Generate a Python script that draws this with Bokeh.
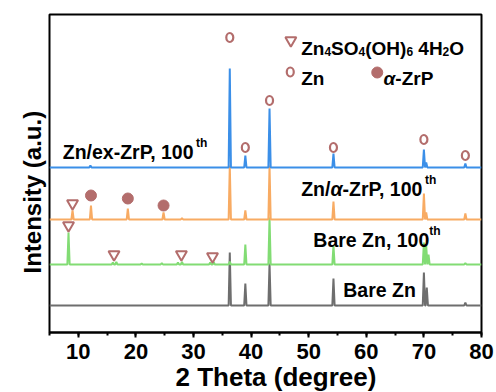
from bokeh.plotting import figure
from bokeh.models import Range1d, Label, SingleIntervalTicker, Title
from bokeh.embed import file_html
from bokeh.resources import INLINE

# ---- XRD peak lists (2 theta in degree, intensity in a.u.) ----
bare_pos = [36.3, 39.0, 43.2, 54.3, 70.0, 70.5, 77.2]
bare_int = [53, 22, 42, 27, 33, 18, 3]

bare100_pos = [8.3, 16.0, 16.6, 21.0, 24.5, 27.3, 28.0, 32.9, 33.5, 36.3, 39.0, 43.2, 54.3, 70.0, 70.4, 70.8, 77.2]
bare100_int = [32, 2, 2.5, 1, 1.5, 2, 2.5, 2, 2.5, 3, 20, 47, 19, 22, 19, 10, 1.5]

zrp_pos = [9.0, 12.2, 18.6, 24.8, 28.0, 36.3, 39.0, 43.2, 54.3, 70.0, 70.4, 77.2]
zrp_int = [9, 14, 11, 7, 1.5, 54, 9, 54, 18, 26, 7, 6]

exzrp_pos = [12.1, 36.3, 39.0, 43.2, 54.3, 70.0, 70.4, 77.2]
exzrp_int = [2, 99, 12, 59, 14, 18, 5, 4]

# vertical stacking offsets of the four patterns
offsets = [0, 41, 86, 138]
colors = ["#6e6e6e", "#82dc74", "#f8ab63", "#3b8fe8"]

# phase markers
zn_mark_x = [36.3, 39.0, 43.2, 54.3, 70.0, 77.2]
zn_mark_y = [268, 158, 205, 158, 166, 150]
zrp_mark_x = [12.2, 18.6, 24.8]
zrp_mark_y = [110, 107, 100]
zhs_mark_x = [9.0, 8.3, 16.2, 27.9, 33.3]
zhs_mark_y = [102, 80, 51, 51, 49]

MARK = "#b36d6c"
FONT = "Liberation Sans"

X0, X1 = 5, 80
PX = 75 / 432  # x data units per screen pixel


def profile(pos, inten, base, half=0.2):
    """Narrow triangular reflections on a flat baseline."""
    xs, ys = [X0], [base]
    for p, h in sorted(zip(pos, inten)):
        xs += [p - half, p, p + half]
        ys += [base, base + h, base]
    xs.append(X1)
    ys.append(base)
    return xs, ys


p = figure(width=496, height=392, output_backend="svg", toolbar_location=None,
           x_range=Range1d(X0, X1), y_range=Range1d(-27, 291),
           min_border_left=49, min_border_right=15, min_border_top=14, min_border_bottom=60)
p.background_fill_color = "white"
p.border_fill_color = "white"
p.grid.visible = False
p.outline_line_color = "black"
p.outline_line_width = 2
p.outline_line_alpha = 1

series = [(bare_pos, bare_int), (bare100_pos, bare100_int), (zrp_pos, zrp_int), (exzrp_pos, exzrp_int)]
for (pos, inten), off, col in zip(series, offsets, colors):
    xs, ys = profile(pos, inten, off)
    p.line(xs, ys, line_color=col, line_width=2)

# phase markers
p.ellipse(zn_mark_x, zn_mark_y, width=7, height=9, width_units="screen", height_units="screen",
          fill_color=None, line_color=MARK, line_width=2.2)
p.scatter(zrp_mark_x, zrp_mark_y, marker="circle", size=11, fill_color=MARK, line_color=MARK)
p.scatter(zhs_mark_x, zhs_mark_y, marker="inverted_triangle", size=11, fill_color=None,
          line_color=MARK, line_width=2)

# x axis
xa = p.xaxis[0]
xa.ticker = SingleIntervalTicker(interval=10, num_minor_ticks=2)
xa.major_label_text_font = FONT
xa.major_label_text_font_style = "bold"
xa.major_label_text_font_size = "22px"
xa.major_label_text_color = "black"
xa.major_label_standoff = 6
xa.axis_line_width = 2
xa.major_tick_line_width = 2
xa.minor_tick_line_width = 2
xa.major_tick_in = 0
xa.major_tick_out = 5
xa.minor_tick_in = 0
xa.minor_tick_out = 3

# no y scale: the frame's left edge is the axis line
p.yaxis.visible = False

# axis titles as side titles so they can be placed along their edge
p.add_layout(Title(text="2 Theta (degree)", align="left", offset=126, standoff=-4,
                   text_font=FONT, text_font_style="bold", text_font_size="26px",
                   text_color="black"), "below")
p.add_layout(Title(text="Intensity (a.u.)", align="left", offset=59, standoff=8,
                   text_font=FONT, text_font_style="bold", text_font_size="24px",
                   text_color="black"), "left")


def text(x, y, s, size, style="bold"):
    p.add_layout(Label(x=x, y=y, text=s, text_font=FONT, text_font_style=style,
                       text_font_size=f"{size}px", text_color="black",
                       text_baseline="alphabetic", text_align="left"))


# Arial-bold advance widths (em) used to chain text pieces
W = {" ": .278, "(": .333, ")": .333, ",": .278, "-": .333, "/": .278, ".": .278,
     "B": .722, "H": .722, "O": .778, "P": .667, "S": .667, "Z": .611,
     "a": .556, "e": .556, "n": .611, "r": .389, "x": .556, "t": .333, "h": .611, "α": .62}


def em(s):
    return sum(W.get(c, .556) for c in s)


def run(x, y, pieces):
    """Lay out text pieces left to right: (text, size, style, dy); leading spaces become gaps."""
    for s, size, style, dy in pieces:
        lead = len(s) - len(s.lstrip(" "))
        x += lead * W[" "] * size * PX
        s = s.lstrip(" ")
        text(x, y + dy, s, size, style)
        x += em(s) * size * PX


def seg(s, size, style="bold", dy=0):
    return (s, size, style, dy)


# series labels with superscript ordinal
run(7.3, 154, [seg("Zn/ex-ZrP, 100", 19.5), seg("th", 12, dy=9)])
run(48.7, 117, [seg("Zn/", 19.5), seg("α", 19.5, "bold italic"), seg("-ZrP, 100", 19.5), seg("th", 12, dy=9)])
run(50.8, 66, [seg("Bare Zn, 100", 19.5), seg("th", 12, dy=9)])
run(56.0, 16, [seg("Bare Zn", 19.5)])

# legend
p.scatter([46.9], [265], marker="inverted_triangle", size=11, fill_color=None, line_color=MARK, line_width=2)
run(48.7, 257, [seg("Zn", 19), seg("4", 12, dy=-3), seg("SO", 19), seg("4", 12, dy=-3),
                seg("(OH)", 19), seg("6", 12, dy=-3), seg(" 4H", 19), seg("2", 12, dy=-3), seg("O", 19)])
p.ellipse([46.8], [233.5], width=7, height=9, width_units="screen", height_units="screen",
          fill_color=None, line_color=MARK, line_width=2.2)
run(48.7, 227, [seg("Zn", 19)])
p.scatter([61.9], [233], marker="circle", size=11, fill_color=MARK, line_color=MARK)
run(63.0, 227, [seg("α", 19, "bold italic"), seg("-ZrP", 19)])

open("out.html", "w").write(file_html(p, INLINE))
